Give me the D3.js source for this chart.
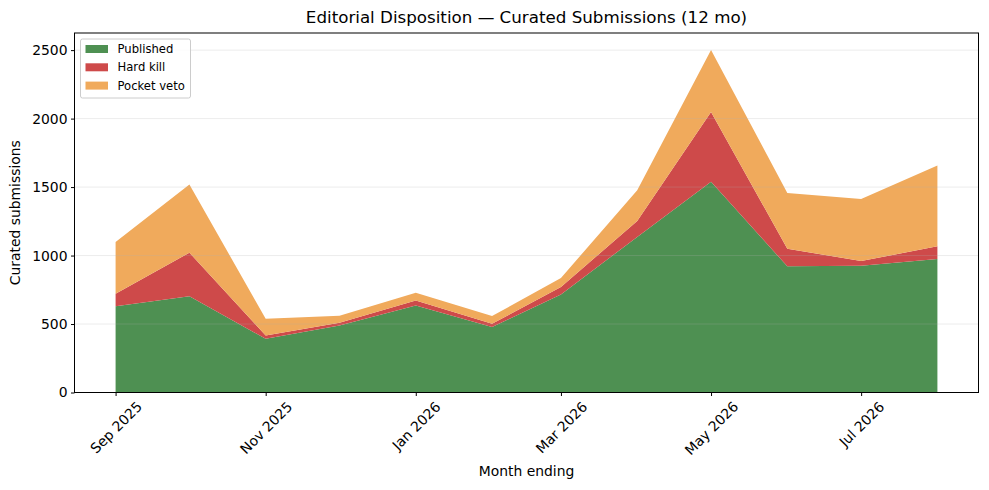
<!DOCTYPE html>
<html>
<head>
<meta charset="utf-8">
<script src="https://cdn.jsdelivr.net/npm/d3@7"></script>
<style>
  body { margin: 0; background: #fff; }
  svg { font-family: "DejaVu Sans", sans-serif; }
</style>
</head>
<body>
<svg id="chart" width="989" height="490"></svg>
<script>
// months (first of month)
const months = ["2025-09", "2025-10", "2025-11", "2025-12", "2026-01", "2026-02",
                "2026-03", "2026-04", "2026-05", "2026-06", "2026-07", "2026-08"];
const published  = [629, 702, 392, 490, 636, 478, 716, 1136, 1538, 921, 926, 975];
const hardKill   = [92, 319, 25, 19, 36, 24, 54, 117, 511, 129, 34, 92];
const pocketVeto = [378, 497, 122, 51, 57, 56, 66, 224, 451, 407, 453, 590];

const seriesNames = ["Published", "Hard kill", "Pocket veto"];
const seriesKeys = ["published", "hardKill", "pocketVeto"];
const colors = ["#4e9052", "#ce4a4a", "#f0aa5c"];
const yTicks = [0, 500, 1000, 1500, 2000, 2500];

const parse = d3.utcParse("%Y-%m");
const rows = months.map((m, i) => ({
  date: parse(m),
  published: published[i],
  hardKill: hardKill[i],
  pocketVeto: pocketVeto[i]
}));

const svg = d3.select("#chart");
const margin = {left: 74.5, right: 978.5, top: 33, bottom: 392.5};

// x: time scale with 5% padding like matplotlib
const ext = d3.extent(rows, d => d.date);
const pad = (ext[1] - ext[0]) * 0.05;
const x = d3.scaleUtc()
  .domain([new Date(+ext[0] - pad), new Date(+ext[1] + pad)])
  .range([margin.left, margin.right]);

const stack = d3.stack().keys(seriesKeys);
const layers = stack(rows);
const ymax = d3.max(layers[layers.length - 1], d => d[1]);
const y = d3.scaleLinear()
  .domain([0, ymax * 1.05])
  .range([margin.bottom, margin.top]);

const area = d3.area()
  .x(d => x(d.data.date))
  .y0(d => y(d[0]))
  .y1(d => y(d[1]));

svg.append("g")
  .selectAll("path")
  .data(layers)
  .enter()
  .append("path")
  .attr("d", area)
  .attr("fill", (d, i) => colors[i]);

// gridlines sit above the fills, semi-transparent
svg.append("g")
  .selectAll("line")
  .data(yTicks)
  .enter()
  .append("line")
  .attr("x1", margin.left)
  .attr("x2", margin.right)
  .attr("y1", d => y(d))
  .attr("y2", d => y(d))
  .attr("stroke", "#b0b0b0")
  .attr("stroke-opacity", 0.3)
  .attr("stroke-width", 0.8);

// frame
svg.append("rect")
  .attr("x", margin.left)
  .attr("y", margin.top)
  .attr("width", margin.right - margin.left)
  .attr("height", margin.bottom - margin.top)
  .attr("fill", "none")
  .attr("stroke", "#000")
  .attr("stroke-width", 1);

// y axis
const yAxis = d3.axisLeft(y).tickValues(yTicks).tickSize(3.5).tickPadding(3.5)
  .tickFormat(d3.format("d"));
const gy = svg.append("g")
  .attr("transform", "translate(" + margin.left + ",0)")
  .call(yAxis);
gy.select(".domain").remove();
gy.selectAll("text").attr("font-size", 13.9).attr("fill", "#000")
  .attr("font-family", "DejaVu Sans");

// x axis, ticks every two months
const xTicks = rows.filter((d, i) => i % 2 === 0).map(d => d.date);
const xAxis = d3.axisBottom(x).tickValues(xTicks).tickSize(3.5)
  .tickFormat(d3.utcFormat("%b %Y"));
const gx = svg.append("g")
  .attr("transform", "translate(0," + margin.bottom + ")")
  .call(xAxis);
gx.select(".domain").remove();
gx.selectAll("text")
  .attr("font-size", 13.9)
  .attr("fill", "#000")
  .attr("font-family", "DejaVu Sans")
  .attr("text-anchor", "middle")
  .attr("dy", null)
  .attr("dominant-baseline", "central")
  .each(function() {
    const t = d3.select(this);
    const w = this.getComputedTextLength();
    const h = 13;
    const half = (w + h) * Math.SQRT1_2 / 2;
    t.attr("y", 7 + half).attr("transform", "rotate(-45 0 " + (7 + half) + ")");
  });

// labels
svg.append("text")
  .attr("x", (margin.left + margin.right) / 2)
  .attr("y", 23)
  .attr("text-anchor", "middle")
  .attr("font-size", 16.7)
  .text("Editorial Disposition — Curated Submissions (12 mo)");

svg.append("text")
  .attr("x", (margin.left + margin.right) / 2)
  .attr("y", 476)
  .attr("text-anchor", "middle")
  .attr("font-size", 13.9)
  .text("Month ending");

svg.append("text")
  .attr("transform", "translate(20," + ((margin.top + margin.bottom) / 2) + ") rotate(-90)")
  .attr("text-anchor", "middle")
  .attr("font-size", 13.9)
  .text("Curated submissions");

// legend
const lg = svg.append("g").attr("transform", "translate(80.5,39)");
lg.append("rect")
  .attr("width", 110)
  .attr("height", 59)
  .attr("rx", 2)
  .attr("fill", "#fff")
  .attr("fill-opacity", 0.8)
  .attr("stroke", "#ccc")
  .attr("stroke-width", 1);
seriesNames.forEach((name, i) => {
  const row = lg.append("g").attr("transform", "translate(5," + (6 + i * 18.3) + ")");
  row.append("rect").attr("width", 22.5).attr("height", 8).attr("fill", colors[i]);
  row.append("text")
    .attr("x", 32)
    .attr("y", 8)
    .attr("font-size", 11.6)
    .text(name);
});
</script>
</body>
</html>
